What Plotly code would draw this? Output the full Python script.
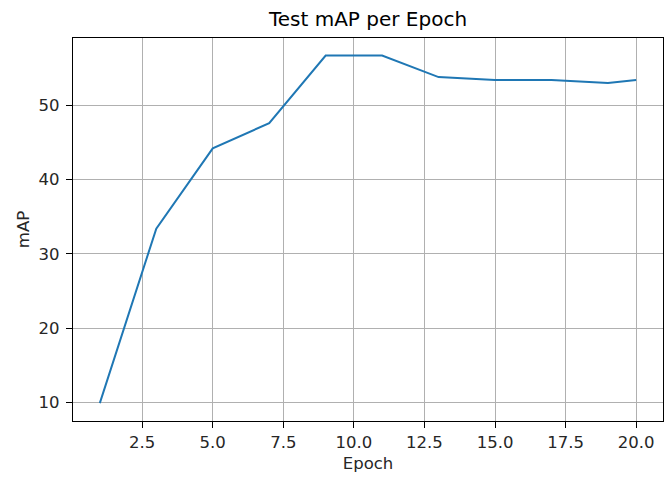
import plotly.graph_objects as go

epochs = [1, 3, 5, 7, 9, 11, 13, 15, 17, 19, 20]
test_map = [9.9, 33.4, 44.2, 47.6, 56.7, 56.7, 53.8, 53.4, 53.4, 53.0, 53.4]

fig = go.Figure()
fig.add_trace(go.Scatter(x=epochs, y=test_map, mode="lines",
                         line=dict(color="#1f77b4", width=2)))

font = dict(family="DejaVu Sans", size=16.5, color="#262626")
fig.update_layout(
    width=670, height=477,
    margin=dict(l=73, r=7, t=38, b=56, autoexpand=False),
    paper_bgcolor="white", plot_bgcolor="white",
    showlegend=False,
    font=font,
    title=dict(text="Test mAP per Epoch", x=0.5, xref="paper", xanchor="center",
               y=0.960, yanchor="middle", automargin=False,
               font=dict(family="DejaVu Sans", size=20, color="#000000")),
    xaxis=dict(range=[0.05, 20.95], tick0=0, dtick=2.5, tickformat=".1f",
               showgrid=True, gridcolor="#b0b0b0", gridwidth=1.2,
               showline=True, linecolor="black", linewidth=1.3, mirror=True,
               ticks="outside", ticklen=6, tickcolor="black", zeroline=False,
               automargin=False,
               title=dict(text="Epoch", standoff=6, font=font)),
    yaxis=dict(range=[7.5, 59.06], tick0=0, dtick=10,
               showgrid=True, gridcolor="#b0b0b0", gridwidth=1.2,
               showline=True, linecolor="black", linewidth=1.3, mirror=True,
               ticks="outside", ticklen=6, tickcolor="black", zeroline=False,
               automargin=False, ticklabelstandoff=3,
               title=dict(text="mAP", standoff=4, font=font)),
)
fig.write_html("out.html", config={"displayModeBar": False},
               post_script="document.body.style.margin='0';document.body.style.overflow='hidden';")
